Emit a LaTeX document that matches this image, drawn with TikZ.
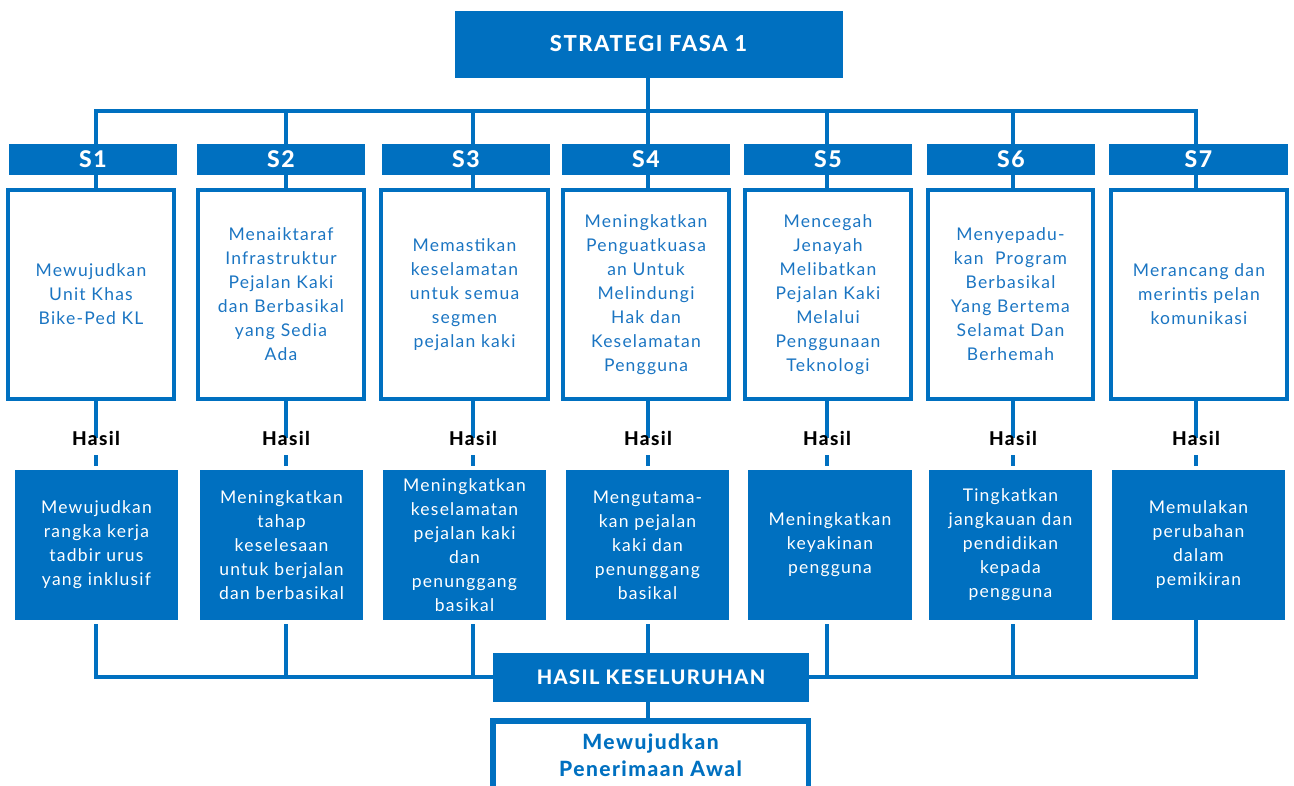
\documentclass[tikz,border=0pt]{standalone}
\usepackage{fontspec}
\IfFontExistsTF{Lato Heavy}{%
  \setmainfont{Lato}[LetterSpace=7, BoldFont={Lato Heavy}]%
}{%
  \setmainfont{Lato}[LetterSpace=7]%
}
\usetikzlibrary{backgrounds}
\definecolor{blu}{HTML}{0070C0}
\definecolor{txtblu}{HTML}{1B75C2}
\newcommand{\bodyfont}{\fontsize{17.5}{24}\selectfont}
\begin{document}
\begin{tikzpicture}[x=1pt,y=-1pt,
  conn/.style={draw=blu, line width=3.3pt},
  hdr/.style={fill=blu, text=white, inner sep=0pt, minimum height=31pt, font=\fontsize{23}{26}\selectfont\bfseries},
  obox/.style={draw=blu, line width=4pt, text=txtblu, inner sep=0pt, minimum height=209pt, align=center, font=\bodyfont},
  fbox/.style={fill=blu, text=white, inner sep=0pt, minimum height=150pt, align=center, font=\bodyfont},
  hasil/.style={text=black, inner sep=0pt, minimum height=32pt, font=\fontsize{19}{22}\selectfont\bfseries},
]
\useasboundingbox (0,0) rectangle (1294,785);
\clip (0,0) rectangle (1294,785);

% top
\node[fill=blu, text=white, inner sep=0pt, minimum width=388pt, minimum height=67pt,
      font=\fontsize{22}{24}\selectfont\bfseries] (top) at (648.5,44) {STRATEGI FASA 1};

% column x positions
\coordinate (c1) at (96,0);
\coordinate (c2) at (286,0);
\coordinate (c3) at (473,0);
\coordinate (c4) at (648,0);
\coordinate (c5) at (827,0);
\coordinate (c6) at (1013,0);
\coordinate (c7) at (1196,0);
\coordinate (bt) at (648,111);
\coordinate (bb) at (648,677);

% headers
\node[hdr, minimum width=168pt] (s1h) at (93,159.5) {S1};
\node[hdr, minimum width=168pt] (s2h) at (281,159.5) {S2};
\node[hdr, minimum width=168pt] (s3h) at (466,159.5) {S3};
\node[hdr, minimum width=168pt] (s4h) at (646,159.5) {S4};
\node[hdr, minimum width=168pt] (s5h) at (828,159.5) {S5};
\node[hdr, minimum width=168pt] (s6h) at (1011,159.5) {S6};
\node[hdr, minimum width=179pt] (s7h) at (1198.5,159.5) {S7};

% outlined strategy boxes
\node[obox, minimum width=166pt] (s1o) at (91,294.5) {Mewujudkan\\Unit Khas\\Bike-Ped KL};
\node[obox, minimum width=166pt] (s2o) at (281,294.5) {Menaiktaraf\\Infrastruktur\\Pejalan Kaki\\dan Berbasikal\\yang Sedia\\Ada};
\node[obox, minimum width=167pt] (s3o) at (464.5,294.5) {Memastikan\\keselamatan\\untuk semua\\segmen\\pejalan kaki};
\node[obox, minimum width=166pt] (s4o) at (646,294.5) {Meningkatkan\\Penguatkuasa\\an Untuk\\Melindungi\\Hak dan\\Keselamatan\\Pengguna};
\node[obox, minimum width=166pt] (s5o) at (828,294.5) {Mencegah\\Jenayah\\Melibatkan\\Pejalan Kaki\\Melalui\\Penggunaan\\Teknologi};
\node[obox, minimum width=165pt] (s6o) at (1010.5,294.5) {Menyepadu-\\kan\ \ Program\\Berbasikal\\Yang Bertema\\Selamat Dan\\Berhemah};
\node[obox, minimum width=176pt] (s7o) at (1199,294.5) {Merancang dan\\merintis pelan\\komunikasi};

% Hasil labels
\node[hasil] (h1) at (96,438) {Hasil};
\node[hasil] (h2) at (286,438) {Hasil};
\node[hasil] (h3) at (473,438) {Hasil};
\node[hasil] (h4) at (648,438) {Hasil};
\node[hasil] (h5) at (827,438) {Hasil};
\node[hasil] (h6) at (1013,438) {Hasil};
\node[hasil] (h7) at (1196,438) {Hasil};

% filled result boxes
\node[fbox, minimum width=163pt] (s1r) at (96.5,545) {Mewujudkan\\rangka kerja\\tadbir urus\\yang inklusif};
\node[fbox, minimum width=163pt] (s2r) at (281.5,545) {Meningkatkan\\tahap\\keselesaan\\untuk berjalan\\dan berbasikal};
\node[fbox, minimum width=163pt] (s3r) at (464.5,545) {Meningkatkan\\keselamatan\\pejalan kaki\\dan\\penunggang\\basikal};
\node[fbox, minimum width=163pt] (s4r) at (647.5,545) {Mengutama-\\kan pejalan\\kaki dan\\penunggang\\basikal};
\node[fbox, minimum width=164pt] (s5r) at (830,545) {Meningkatkan\\keyakinan\\pengguna};
\node[fbox, minimum width=163pt] (s6r) at (1010.5,545) {Tingkatkan\\jangkauan dan\\pendidikan\\kepada\\pengguna};
\node[fbox, minimum width=173pt] (s7r) at (1198.5,545) {Memulakan\\perubahan\\dalam\\pemikiran};

% overall result
\node[fill=blu, text=white, inner sep=0pt, minimum width=316pt, minimum height=49pt,
      font=\fontsize{20}{24}\selectfont\bfseries] (hk) at (651,677.5) {HASIL KESELURUHAN};
\node[draw=blu, line width=5.5pt, text=blu, inner sep=0pt, minimum width=315.5pt, minimum height=90pt,
      align=center, font=\fontsize{21}{27}\selectfont\bfseries] (fin) at (650.5,765.75)
      {Mewujudkan\\Penerimaan Awal\\[-6pt]};

\begin{scope}[on background layer]
  \draw[conn] (top.south -| c4) -- (s4h.north -| c4);
  \draw[conn] (s1h.north -| c1) -- (c1 |- bt) -- (c7 |- bt) -- (s7h.north -| c7);
  \foreach \k in {2,3,5,6} { \draw[conn] (s\k h.north -| c\k) -- (c\k |- bt); }
  \foreach \k in {1,...,7} {
    \draw[conn] (s\k h.south -| c\k) -- (s\k o.north -| c\k);
    \draw[conn] (s\k o.south -| c\k) -- ([yshift=-16pt]h\k.north -| c\k);
    \draw[conn, shorten >=4pt] ([yshift=-1pt]h\k.south -| c\k) -- (s\k r.north -| c\k);
  }
  \draw[conn, shorten <=4pt] (s1r.south -| c1) -- (c1 |- bb) -- (c7 |- bb) -- (s7r.south -| c7);
  \foreach \k in {2,3,5,6} { \draw[conn, shorten <=4pt] (s\k r.south -| c\k) -- (c\k |- bb); }
  \draw[conn, shorten <=4pt] (s4r.south -| c4) -- (hk.north -| c4);
  \draw[conn] (hk.south -| c4) -- (fin.north -| c4);
\end{scope}
\end{tikzpicture}
\end{document}
